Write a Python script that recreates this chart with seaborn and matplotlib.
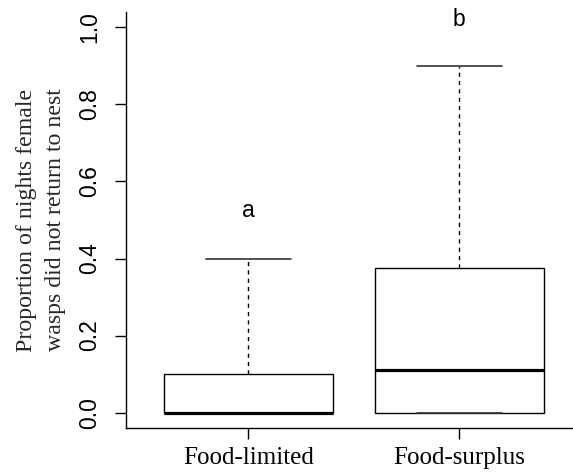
import numpy as np
import pandas as pd
import matplotlib
matplotlib.use("Agg")
import matplotlib.pyplot as plt
import seaborn as sns

# Data (values chosen to reproduce the box statistics)
groups = ["Food-limited", "Food-surplus"]
food_limited = [0, 0, 0, 0, 0, 0, 0.1, 0.1, 0.2, 0.4]
food_surplus = [0, 0, 0, 0.05, 0.11, 0.25, 0.375, 0.5, 0.9]
letters = ["a", "b"]
letter_y = [0.525, 1.02]
yticks = [0.0, 0.2, 0.4, 0.6, 0.8, 1.0]
ytick_labels = ["0.0", "0.2", "0.4", "0.6", "0.8", "1.0"]
ylabel = "Proportion of nights female\nwasps did not return to nest"

df = pd.DataFrame({
    "group": [groups[0]] * len(food_limited) + [groups[1]] * len(food_surplus),
    "value": food_limited + food_surplus,
})

sns.set_style("ticks")
plt.rcParams["font.family"] = ["Liberation Sans", "DejaVu Sans"]

W, H = 573, 472
fig = plt.figure(figsize=(W / 100, H / 100), dpi=100)
ax_left = 126 / W
ax_bottom = (H - 428) / H
ax_height = 416 / H
ax_width = 2.16 * 211 / W
ax = fig.add_axes([ax_left, ax_bottom, ax_width, ax_height])

sns.boxplot(
    data=df, x="group", y="value", order=groups, ax=ax,
    width=0.8, whis=(0, 100), color="white", linecolor="black",
    linewidth=1.0, fill=True, showfliers=False,
    boxprops=dict(facecolor="white", edgecolor="black", linewidth=1.0),
    medianprops=dict(color="black", linewidth=2.3),
    whiskerprops=dict(color="black", linestyle=(0, (3, 3)), linewidth=1.0),
    capprops=dict(color="#333333", linewidth=1.2),
)

for i, (t, y) in enumerate(zip(letters, letter_y)):
    ax.text(i, y, t, ha="center", va="center", fontsize=16.5,
            family=["Liberation Sans", "DejaVu Sans"], color="black")

ax.set_xlim(-0.58, 1.58)
ax.set_ylim(-0.04, 1.04)
ax.set_yticks(yticks)
ax.set_yticklabels(ytick_labels, rotation=90, va="center",
                   family=["Liberation Sans", "DejaVu Sans"], fontsize=16.5)
ax.set_xticks([0, 1])
ax.set_xticklabels(groups, family=["Liberation Serif", "DejaVu Serif"], fontsize=18)
ax.set_xlabel("")
ax.set_ylabel(ylabel, family=["Liberation Serif", "DejaVu Serif"], fontsize=17.2,
              va="center", linespacing=1.45)
ax.yaxis.set_label_coords((41 - 126) / (ax_width * W), 0.5)

for s in ["top", "right"]:
    ax.spines[s].set_visible(False)
for s in ["left", "bottom"]:
    ax.spines[s].set_color("black")
    ax.spines[s].set_linewidth(1.0)
ax.tick_params(axis="both", direction="out", length=8, width=1.0, colors="black")
ax.tick_params(axis="y", pad=10)
ax.tick_params(axis="x", pad=6)

fig.savefig("out.png", dpi=100)
